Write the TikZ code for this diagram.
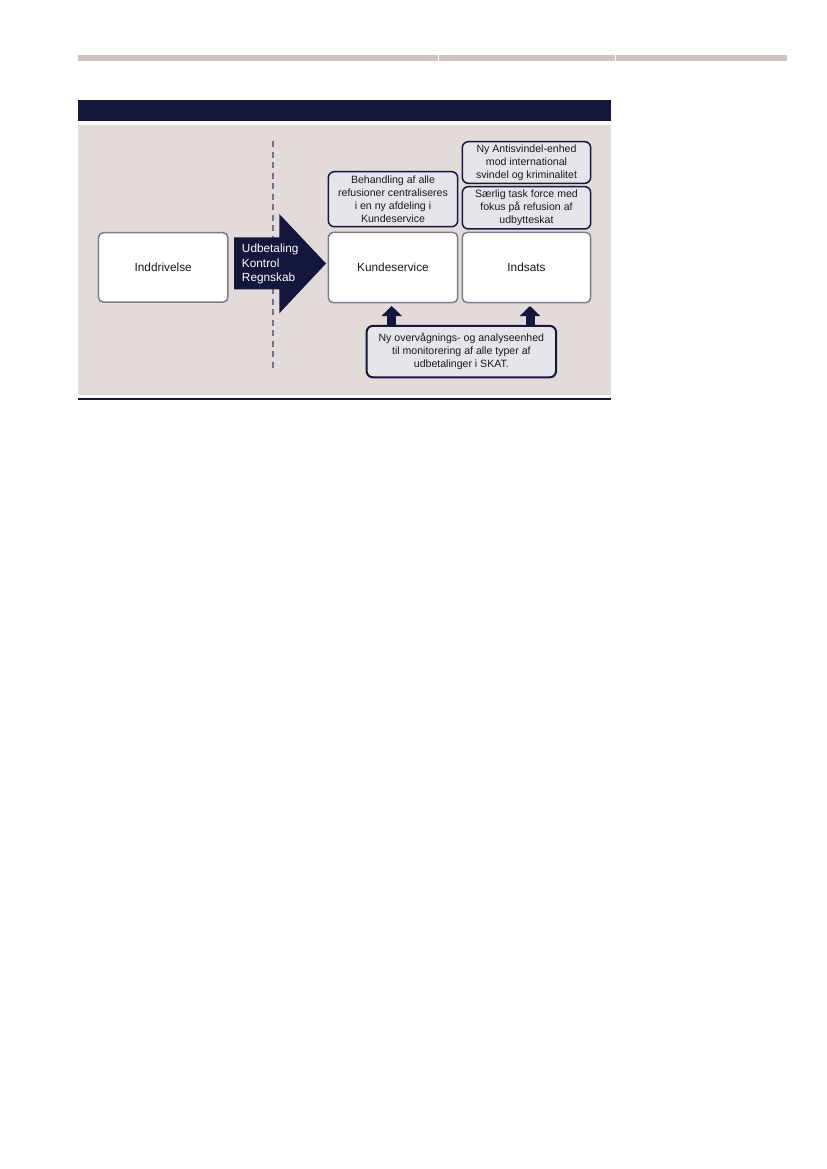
\documentclass[tikz,border=0pt]{standalone}
\usepackage{fontspec}
\setmainfont{Liberation Sans}
\usetikzlibrary{arrows.meta}
\definecolor{navy}{HTML}{15163D}
\definecolor{panel}{HTML}{E3DBD9}
\definecolor{rulegray}{HTML}{CFC2BF}
\definecolor{boxgray}{HTML}{7C7C8C}
\definecolor{lightbox}{HTML}{E6E5EB}
\definecolor{dashcol}{HTML}{737389}
\def\u{0.7195pt}
\tikzset{
  txt/.style={font=\fontsize{8.5}{9.4}\selectfont, align=center, text=black!90},
  notetxt/.style={font=\fontsize{7.6}{9.2}\selectfont, align=center, text=black!90},
  mainbox/.style={txt, draw=boxgray, fill=white, line width=1.5*\u, rounded corners=5*\u, inner sep=0pt},
  notebox/.style={notetxt, draw=navy, fill=lightbox, line width=1.5*\u, rounded corners=6*\u, inner sep=0pt},
  blockarrow/.style={draw=navy, line width=9*\u, line cap=butt, -{Triangle[width=20*\u, length=10*\u]}},
}
\begin{document}
\begin{tikzpicture}[x=0.7195pt, y=-0.7195pt]
\useasboundingbox (0,0) rectangle (827,1169);
\fill[white] (0,0) rectangle (827,1169);
% top rule
\fill[rulegray] (78,55) rectangle (437.7,61);
\fill[rulegray] (438.7,55) rectangle (614.7,61);
\fill[rulegray] (615.7,55) rectangle (787,61);
% header bar
\fill[navy] (78,100) rectangle (610.5,121);
% panel
\fill[panel] (78,124.5) rectangle (610.5,394.5);
% bottom line
\draw[navy, line width=2*\u] (78,399) -- (610.5,399);
% dashed separator
\coordinate (dtop) at (272.7,141);
\coordinate (dbot) at (272.7,372);
\draw[dashcol, line width=2*\u, dash pattern=on 6*\u off 4.5*\u] (dtop) -- (dbot);
% big arrow
\fill[navy] (234,237.3) -- (279.3,237.3) -- (279.3,214) -- (326,263.5) -- (279.3,313.3) -- (279.3,289.3) -- (234,289.3) -- cycle;
\node[font=\fontsize{8.5}{10.2}\selectfont, text=white, align=left, anchor=west, inner sep=0pt] (flow) at (241.7,264) {Udbetaling\\Kontrol\\Regnskab};
% main boxes
\node[mainbox, minimum width=129.5*\u, minimum height=69.5*\u] (ind) at (163.2,267.4) {Inddrivelse};
\node[mainbox, minimum width=129.4*\u, minimum height=70.4*\u] (ks) at (393,267.5) {Kundeservice};
\node[mainbox, minimum width=128.4*\u, minimum height=70.4*\u] (is) at (526.5,267.5) {Indsats};
% note boxes
\node[notebox, minimum width=129.4*\u, minimum height=55*\u] (beh) at (393,199.2) {Behandling af alle\\refusioner centraliseres\\i en ny afdeling i\\Kundeservice};
\node[notebox, minimum width=128.4*\u, minimum height=41.6*\u] (anti) at (526.5,162.5) {Ny Antisvindel-enhed\\mod international\\svindel og kriminalitet};
\node[notebox, minimum width=128.4*\u, minimum height=42.3*\u] (task) at (526.5,207.8) {Særlig task force med\\fokus på refusion af\\udbytteskat};
\node[notebox, line width=2*\u, minimum width=189.3*\u, minimum height=51.3*\u] (mon) at (461.35,351.6) {Ny overvågnings- og analyseenhed\\til monitorering af alle typer af\\udbetalinger i SKAT.};
\coordinate (u1) at (391.7,306);
\coordinate (u2) at (530,306);
\draw[blockarrow] (mon.north -| u1) -- (u1);
\draw[blockarrow] (mon.north -| u2) -- (u2);
\end{tikzpicture}
\end{document}
